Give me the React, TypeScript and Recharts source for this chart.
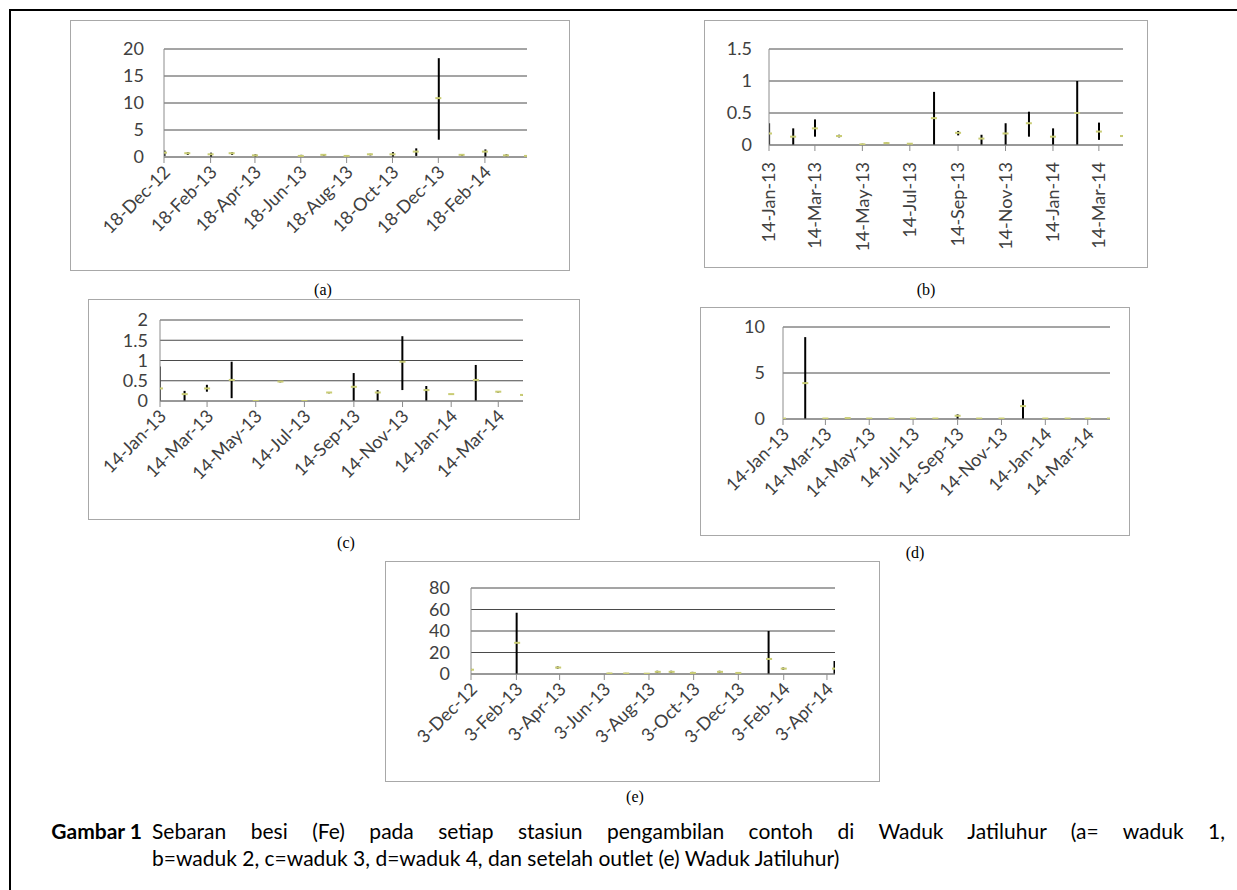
import React from 'react';
import { ComposedChart, Bar, Scatter, XAxis, YAxis, CartesianGrid } from 'recharts';

const MON = ['Jan', 'Feb', 'Mar', 'Apr', 'May', 'Jun', 'Jul', 'Aug', 'Sep', 'Oct', 'Nov', 'Dec'];
const toDay = (s: string) => {
  const [d, m, y] = s.split('-');
  return Date.UTC(2000 + Number(y), MON.indexOf(m), Number(d)) / 86400000;
};

// ---------- Panel (a) waduk 1 ----------
const aDates = ['18-Dec-12', '18-Jan-13', '18-Feb-13', '18-Mar-13', '18-Apr-13', '18-Jun-13', '18-Jul-13', '18-Aug-13', '18-Sep-13', '18-Oct-13', '18-Nov-13', '18-Dec-13', '18-Jan-14', '18-Feb-14', '18-Mar-14', '15-Apr-14'];
const aHigh = [1.2, 0.9, 0.8, 0.9, 0.5, 0.4, 0.5, 0.3, 0.6, 0.9, 1.6, 18.3, 0.5, 1.4, 0.5, 0.3];
const aLow = [0.2, 0.4, 0, 0.4, 0, 0, 0.2, 0, 0.3, 0, 0.2, 3.2, 0.2, 0, 0.1, 0];
const aAvg = [0.8, 0.7, 0.5, 0.7, 0.3, 0.2, 0.4, 0.2, 0.5, 0.5, 1.0, 10.9, 0.4, 1.0, 0.3, 0.2];
const aTicks = ['18-Dec-12', '18-Feb-13', '18-Apr-13', '18-Jun-13', '18-Aug-13', '18-Oct-13', '18-Dec-13', '18-Feb-14'];
const aDomain = ['18-Dec-12', '15-Apr-14'];
const aYTicks = [0, 5, 10, 15, 20];

// ---------- Panel (b) waduk 2 ----------
const bDates = ['14-Jan-13', '14-Feb-13', '14-Mar-13', '14-Apr-13', '14-May-13', '14-Jun-13', '14-Jul-13', '14-Aug-13', '14-Sep-13', '14-Oct-13', '14-Nov-13', '14-Dec-13', '14-Jan-14', '14-Feb-14', '14-Mar-14', '14-Apr-14'];
const bHigh = [0.34, 0.26, 0.4, 0.16, 0.02, 0.04, 0.03, 0.83, 0.22, 0.16, 0.34, 0.52, 0.26, 1.0, 0.35, 0.15];
const bLow = [0, 0, 0.13, 0.12, 0, 0.02, 0.01, 0, 0.15, 0, 0, 0.13, 0, 0, 0.08, 0.13];
const bAvg = [0.18, 0.13, 0.26, 0.14, 0.01, 0.03, 0.02, 0.42, 0.19, 0.1, 0.18, 0.34, 0.13, 0.5, 0.21, 0.14];
const bTicks = ['14-Jan-13', '14-Mar-13', '14-May-13', '14-Jul-13', '14-Sep-13', '14-Nov-13', '14-Jan-14', '14-Mar-14'];
const bDomain = ['14-Jan-13', '14-Apr-14'];
const bYTicks = [0, 0.5, 1, 1.5];

// ---------- Panel (c) waduk 3 ----------
const cDates = bDates;
const cHigh = [0.85, 0.25, 0.4, 0.97, 0.02, 0.48, 0.02, 0.21, 0.69, 0.27, 1.6, 0.37, 0.17, 0.89, 0.23, 0.15];
const cLow = [0, 0, 0.23, 0.07, 0, 0.46, 0, 0.19, 0, 0, 0.27, 0, 0.15, 0, 0.21, 0.13];
const cAvg = [0.31, 0.17, 0.31, 0.52, 0, 0.48, 0, 0.21, 0.35, 0.21, 0.97, 0.27, 0.17, 0.52, 0.23, 0.15];
const cTicks = bTicks;
const cDomain = ['14-Jan-13', '14-Apr-14'];
const cYTicks = [0, 0.5, 1, 1.5, 2];

// ---------- Panel (d) waduk 4 ----------
const dDates = bDates;
const dHigh = [0.1, 8.9, 0.1, 0.1, 0.1, 0.1, 0.1, 0.1, 0.5, 0.1, 0.1, 2.1, 0.1, 0.1, 0.1, 0.1];
const dLow = [0, 0, 0, 0, 0, 0, 0, 0, 0, 0, 0, 0, 0, 0, 0, 0];
const dAvg = [0.05, 3.9, 0.05, 0.1, 0.05, 0.05, 0.05, 0.05, 0.35, 0.05, 0.05, 1.4, 0.05, 0.05, 0.05, 0.05];
const dTicks = bTicks;
const dDomain = ['14-Jan-13', '14-Apr-14'];
const dYTicks = [0, 5, 10];

// ---------- Panel (e) setelah outlet ----------
const eDates = ['3-Dec-12', '4-Feb-13', '1-Apr-13', '10-Jun-13', '3-Jul-13', '31-Jul-13', '15-Aug-13', '3-Sep-13', '2-Oct-13', '8-Nov-13', '3-Dec-13', '14-Jan-14', '3-Feb-14', '14-Apr-14'];
const eHigh = [5, 57, 7, 1, 1, 0.5, 3, 3, 2, 3, 1.5, 40, 6, 12];
const eLow = [3, 0, 5, 0, 0, 0, 1, 1, 0.5, 1, 0.5, 0, 4, 0];
const eAvg = [4, 29, 6, 0.5, 0.5, 0.3, 2, 2, 1, 2, 1, 14, 5, 5];
const eTicks = ['3-Dec-12', '3-Feb-13', '3-Apr-13', '3-Jun-13', '3-Aug-13', '3-Oct-13', '3-Dec-13', '3-Feb-14', '3-Apr-14'];
const eDomain = ['3-Dec-12', '14-Apr-14'];
const eYTicks = [0, 20, 40, 60, 80];

const FONT = 'Lato, "Liberation Sans", sans-serif';
const TXT = '#404040';
const AXIS = '#8c8c8c';
const GRID = '#4a4a4a';
const MARK = '#c9cc74';

type PanelProps = {
  dates: string[]; high: number[]; low: number[]; avg: number[];
  ticks: string[]; domain: string[]; yTicks: number[];
  box: number[]; axisX: number; gridTop: number; gridBottom: number; plotRight: number;
  angle: number; yGap: number;
};

function Panel(p: PanelProps) {
  const [bx, by, bw, bh] = p.box;
  const data = p.dates.map((d, i) => ({ t: toDay(d), range: [p.low[i], p.high[i]], avg: p.avg[i] }));
  const tickVals = p.ticks.map(toDay);
  const labelOf = new Map<number, string>();
  tickVals.forEach((v, i) => labelOf.set(v, p.ticks[i]));
  const W = bw - 2;
  const H = bh - 2;
  const top = p.gridTop - by - 1;
  const yAxisW = p.axisX - bx - 1;
  const right = bx + bw - 1 - p.plotRight;
  const plotH = p.gridBottom - p.gridTop;
  const xAxisH = H - top - plotH;
  const axisY = top + plotH;

  const XTick = (props: any) => {
    const { x, payload } = props;
    const label = labelOf.get(payload.value) || '';
    if (p.angle === -90) {
      return (
        <g transform={`translate(${x},${axisY + 17})`}>
          <text textAnchor="end" transform="rotate(-90)" dy="0.35em" fontFamily={FONT} fontSize={18} fill={TXT}>{label}</text>
        </g>
      );
    }
    return (
      <g transform={`translate(${x + 3},${axisY + 12})`}>
        <text textAnchor="end" transform="rotate(-45)" dy="0.35em" fontFamily={FONT} fontSize={18} fill={TXT}>{label}</text>
      </g>
    );
  };
  const YTick = (props: any) => {
    const { y, payload } = props;
    return (
      <text x={yAxisW - p.yGap} y={y} textAnchor="end" dy="0.35em" fontFamily={FONT} fontSize={18} fill={TXT}>{String(payload.value)}</text>
    );
  };
  const Marker = (props: any) => {
    const { cx, cy } = props;
    if (cx == null || cy == null) return null;
    return <rect x={cx - 3} y={cy - 1} width={6} height={2} fill={MARK} />;
  };

  return (
    <div style={{ position: 'absolute', left: bx, top: by, width: bw, height: bh, boxSizing: 'border-box', border: '1px solid #a8a8a8', background: '#fff' }}>
      <ComposedChart width={W} height={H} data={data} margin={{ top, right, bottom: 0, left: 0 }}>
        <CartesianGrid horizontal vertical={false} stroke={GRID} strokeWidth={1} />
        <XAxis dataKey="t" type="number" scale="linear" domain={[toDay(p.domain[0]), toDay(p.domain[1])]} ticks={tickVals} interval={0}
          height={xAxisH} axisLine={{ stroke: AXIS }} tickLine={{ stroke: AXIS }} tickSize={6} tick={XTick} allowDataOverflow />
        <YAxis type="number" domain={[0, p.yTicks[p.yTicks.length - 1]]} ticks={p.yTicks} interval={0} width={yAxisW}
          axisLine={{ stroke: AXIS }} tickLine={false} tick={YTick} allowDataOverflow />
        <Bar dataKey="range" barSize={2} fill="#000" isAnimationActive={false} />
        <Scatter dataKey="avg" shape={Marker} isAnimationActive={false} />
      </ComposedChart>
    </div>
  );
}

const lbl = (text: string, cx: number, cy: number) => (
  <div style={{ position: 'absolute', left: cx - 40, top: cy - 10, width: 80, height: 20, lineHeight: '20px', textAlign: 'center', fontFamily: '"Liberation Serif", "Times New Roman", serif', fontSize: 16, color: '#000' }}>{text}</div>
);

const CAP = { fontFamily: 'Lato, sans-serif', fontSize: 21, lineHeight: '27px', color: '#000' };

export default function App() {
  return (
    <div style={{ position: 'absolute', left: 0, top: 0, width: 1237, height: 890, background: '#fff', overflow: 'hidden' }}>
      <div style={{ position: 'absolute', left: 9, top: 9, width: 1230, height: 890, borderTop: '2px solid #000', borderLeft: '2px solid #000' }} />
      <Panel dates={aDates} high={aHigh} low={aLow} avg={aAvg} ticks={aTicks} domain={aDomain} yTicks={aYTicks}
        box={[70, 20, 500, 251]} axisX={164} gridTop={49} gridBottom={157} plotRight={527} angle={-45} yGap={20} />
      <Panel dates={bDates} high={bHigh} low={bLow} avg={bAvg} ticks={bTicks} domain={bDomain} yTicks={bYTicks}
        box={[704, 20, 444, 248]} axisX={769} gridTop={49} gridBottom={145} plotRight={1123} angle={-90} yGap={17} />
      <Panel dates={cDates} high={cHigh} low={cLow} avg={cAvg} ticks={cTicks} domain={cDomain} yTicks={cYTicks}
        box={[88, 299, 492, 221]} axisX={160} gridTop={320} gridBottom={401} plotRight={523} angle={-45} yGap={12} />
      <Panel dates={dDates} high={dHigh} low={dLow} avg={dAvg} ticks={dTicks} domain={dDomain} yTicks={dYTicks}
        box={[700, 307, 430, 229]} axisX={783} gridTop={327} gridBottom={419} plotRight={1110} angle={-45} yGap={18} />
      <Panel dates={eDates} high={eHigh} low={eLow} avg={eAvg} ticks={eTicks} domain={eDomain} yTicks={eYTicks}
        box={[385, 561, 495, 221]} axisX={471} gridTop={588} gridBottom={674} plotRight={835} angle={-45} yGap={21} />
      {lbl('(a)', 323, 290)}
      {lbl('(b)', 926, 290)}
      {lbl('(c)', 346, 543)}
      {lbl('(d)', 915, 553)}
      {lbl('(e)', 635, 797)}
      <div style={{ ...CAP, position: 'absolute', left: 30, top: 817, width: 112, textAlign: 'right', fontWeight: 700, whiteSpace: 'nowrap' }}>Gambar 1</div>
      <div style={{ ...CAP, position: 'absolute', left: 152, top: 817, width: 1073, textAlign: 'justify', textAlignLast: 'justify' as any, whiteSpace: 'nowrap' }}>
        <div style={{ whiteSpace: 'normal', textAlign: 'justify', textAlignLast: 'justify' as any }}>Sebaran besi (Fe) pada setiap stasiun pengambilan contoh di Waduk Jatiluhur (a= waduk 1,</div>
      </div>
      <div style={{ ...CAP, position: 'absolute', left: 152, top: 844, whiteSpace: 'nowrap' }}>
        b=waduk 2, c=waduk 3, d=waduk 4, dan setelah outlet (e) Waduk Jatiluhur)
      </div>
    </div>
  );
}
